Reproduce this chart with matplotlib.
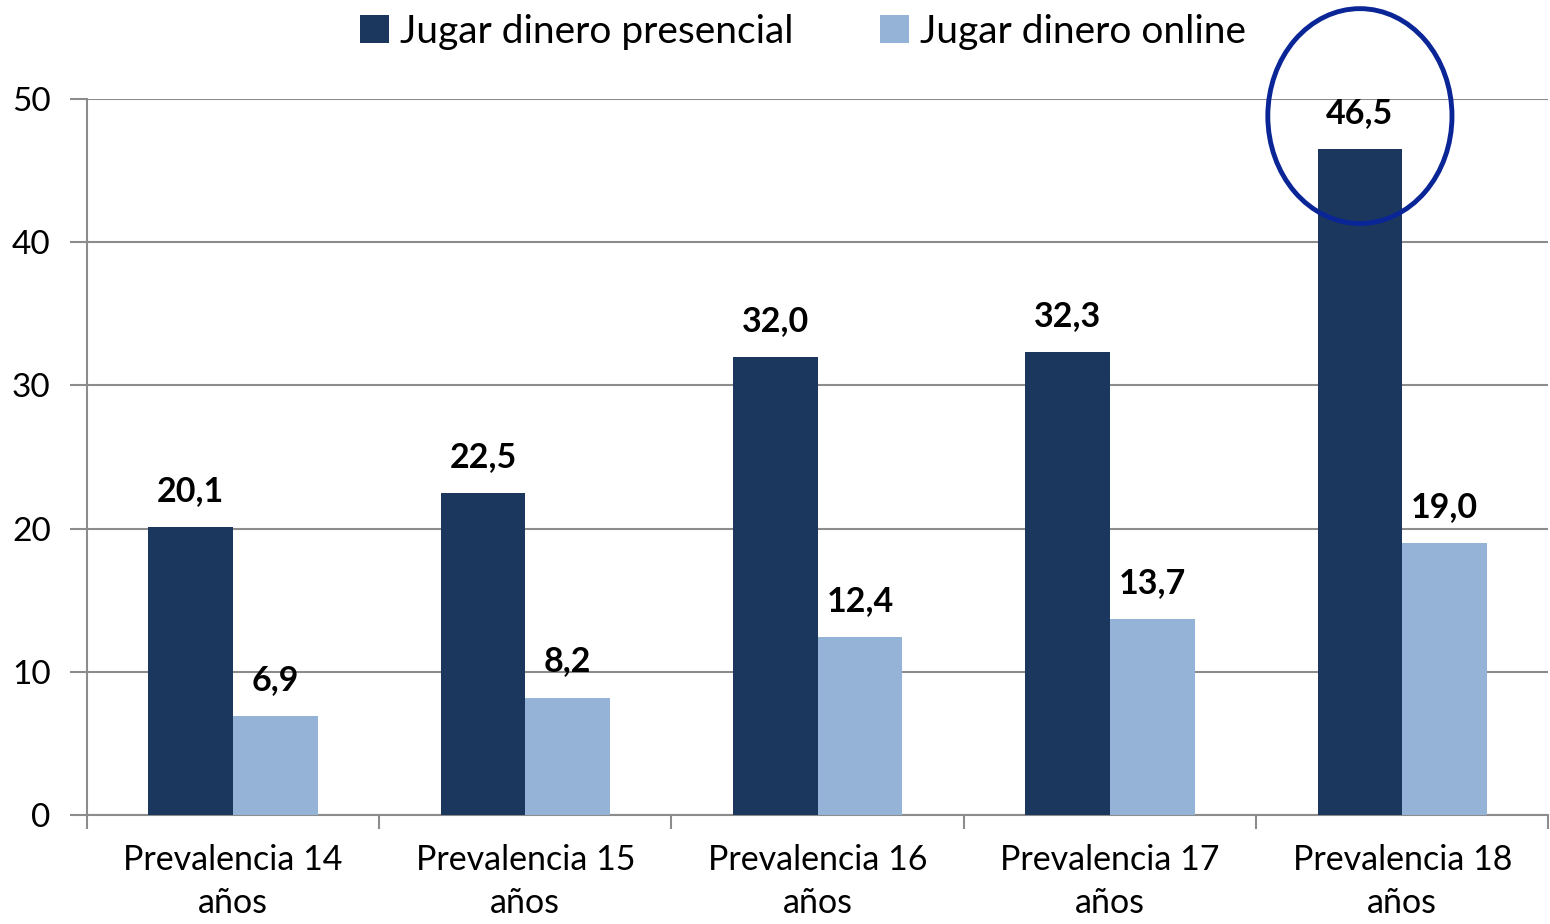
import numpy as np
import matplotlib.pyplot as plt
from matplotlib.patches import Ellipse

categorias = ['Prevalencia 14\naños', 'Prevalencia 15\naños', 'Prevalencia 16\naños',
              'Prevalencia 17\naños', 'Prevalencia 18\naños']
presencial = [20.1, 22.5, 32.0, 32.3, 46.5]
online = [6.9, 8.2, 12.4, 13.7, 19.0]
etykiety_pres = ['20,1', '22,5', '32,0', '32,3', '46,5']
etykiety_onl = ['6,9', '8,2', '12,4', '13,7', '19,0']

plt.rcParams['font.family'] = ['Lato', 'DejaVu Sans']

fig = plt.figure(figsize=(15.5, 9.24), dpi=100)
ax = fig.add_axes([0.056, 0.118, 0.943, 0.775])

x = np.arange(len(categorias))
w = 0.29
b1 = ax.bar(x - w / 2, presencial, w, color='#1b375d', label='Jugar dinero presencial', zorder=3)
b2 = ax.bar(x + w / 2, online, w, color='#95b3d7', label='Jugar dinero online', zorder=3)

for rect, t in zip(b1, etykiety_pres):
    ax.text(rect.get_x() + rect.get_width() / 2, rect.get_height() + 1.4, t,
            ha='center', va='bottom', fontsize=24.5, fontweight='bold')
for rect, t in zip(b2, etykiety_onl):
    ax.text(rect.get_x() + rect.get_width() / 2, rect.get_height() + 1.4, t,
            ha='center', va='bottom', fontsize=24.5, fontweight='bold')

ax.set_xlim(-0.5, 4.5)
ax.set_ylim(0, 50)
ax.set_yticks([0, 10, 20, 30, 40, 50])
ax.yaxis.grid(True, color='#8c8c8c', linewidth=1.5, zorder=0)
ax.set_axisbelow(True)

# x ticks on group boundaries, labels centered
ax.set_xticks(np.arange(-0.5, 5.0, 1.0))
ax.set_xticklabels([])
ax.set_xticks(x, minor=True)
ax.set_xticklabels(categorias, minor=True, fontsize=24.5, linespacing=1.4)
ax.tick_params(axis='x', which='minor', length=0, pad=21)
ax.tick_params(axis='x', which='major', length=10, width=1.5, color='#8c8c8c')
ax.tick_params(axis='y', length=12, width=1.5, color='#8c8c8c', labelsize=24, pad=14)

for s in ['top', 'right']:
    ax.spines[s].set_visible(False)
for s in ['left', 'bottom']:
    ax.spines[s].set_color('#8c8c8c')
    ax.spines[s].set_linewidth(1.5)

# wyróżnienie 18 lat
el = Ellipse((4 - w / 2, 48.8), 0.63, 15.0, fill=False, edgecolor='#0a2596',
             linewidth=3.5, clip_on=False, zorder=5)
ax.add_patch(el)

ax.legend(loc='center', bbox_to_anchor=(0.49, 1.094), ncol=2, frameon=False,
          fontsize=28, handlelength=0.75, handleheight=0.75, handletextpad=0.3,
          columnspacing=2.2, borderaxespad=0.0)

plt.savefig('out.png', dpi=100)
